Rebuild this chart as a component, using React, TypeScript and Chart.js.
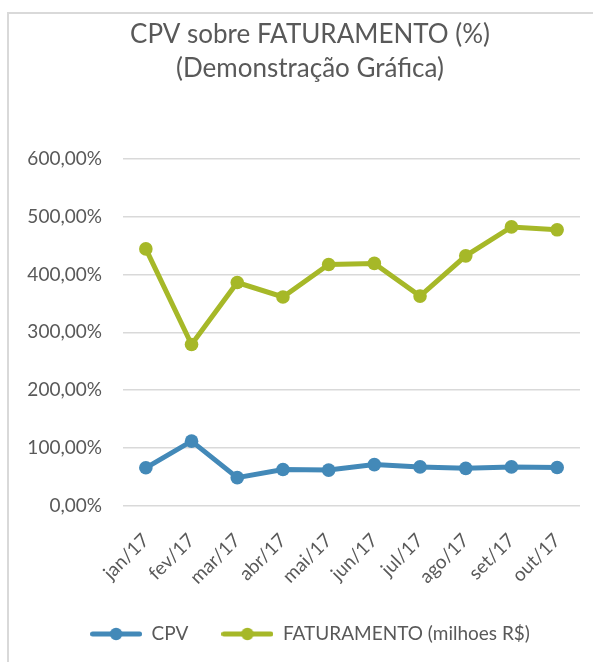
import React, { useEffect, useRef } from "react";
import { Chart, registerables } from "chart.js";

Chart.register(...registerables);

// ---- data ----
const categories = ["jan/17", "fev/17", "mar/17", "abr/17", "mai/17", "jun/17", "jul/17", "ago/17", "set/17", "out/17"];
const cpvValues = [66, 112, 49, 63, 62, 71.5, 67.5, 65, 67.5, 66.5];
const faturamentoValues = [444, 279, 386, 361, 417, 419, 362.5, 432, 482, 477];
const yTickValues = [0, 100, 200, 300, 400, 500, 600];
const titleLines = ["CPV sobre FATURAMENTO (%)", "(Demonstração Gráfica)"];
const seriesNames = ["CPV", "FATURAMENTO (milhoes R$)"];

// ---- styles ----
const seriesColors = ["#4389b8", "#a6b828"];
const textColor = "#595959";
const gridColor = "#d9d9d9";
const FONT = "Lato";

function makeLegendIcon(color: string): HTMLCanvasElement {
  const c = document.createElement("canvas");
  c.width = 52;
  c.height = 14;
  const ctx = c.getContext("2d")!;
  ctx.strokeStyle = color;
  ctx.lineWidth = 5;
  ctx.lineCap = "round";
  ctx.beginPath();
  ctx.moveTo(2.5, 7);
  ctx.lineTo(49.5, 7);
  ctx.stroke();
  ctx.fillStyle = color;
  ctx.beginPath();
  ctx.arc(26, 7, 6.2, 0, Math.PI * 2);
  ctx.fill();
  return c;
}

function formatPct(v: number): string {
  return v.toFixed(2).replace(".", ",") + "%";
}

export default function App() {
  const canvasRef = useRef<HTMLCanvasElement | null>(null);

  useEffect(() => {
    if (!canvasRef.current) return;
    const icons = seriesColors.map((c) => makeLegendIcon(c));
    const seriesData = [cpvValues, faturamentoValues];

    const chart = new Chart(canvasRef.current, {
      type: "line",
      data: {
        labels: categories,
        datasets: seriesNames.map((name, i) => ({
          label: name,
          data: seriesData[i],
          borderColor: seriesColors[i],
          backgroundColor: seriesColors[i],
          borderWidth: 5,
          pointRadius: 6.8,
          pointHoverRadius: 6.8,
          pointBackgroundColor: seriesColors[i],
          pointBorderColor: seriesColors[i],
          pointBorderWidth: 0,
          tension: 0,
          fill: false,
        })),
      },
      options: {
        animation: false,
        responsive: false,
        maintainAspectRatio: false,
        layout: { padding: { top: 0, left: 0, right: 0, bottom: 10.5 } },
        plugins: {
          tooltip: { enabled: false },
          title: {
            display: true,
            text: titleLines,
            color: textColor,
            font: { family: FONT, size: 26, weight: "normal", lineHeight: 1.3 },
            padding: { top: 4, bottom: 73 },
          },
          legend: {
            display: true,
            position: "bottom",
            labels: {
              usePointStyle: true,
              pointStyleWidth: 52,
              padding: 33,
              color: textColor,
              font: { family: FONT, size: 19 },
              generateLabels: (ch: any) =>
                ch.data.datasets.map((ds: any, i: number) => ({
                  text: ds.label,
                  pointStyle: icons[i],
                  fillStyle: seriesColors[i],
                  strokeStyle: seriesColors[i],
                  lineWidth: 0,
                  hidden: false,
                  datasetIndex: i,
                  fontColor: textColor,
                })),
            },
          },
        },
        scales: {
          x: {
            type: "category",
            offset: true,
            grid: { display: false, drawTicks: false },
            border: { display: false },
            ticks: {
              minRotation: 45,
              maxRotation: 45,
              padding: 23,
              color: textColor,
              font: { family: FONT, size: 19 },
            },
            afterFit: (scale: any) => {
              scale.height = 85.5;
            },
          },
          y: {
            type: "linear",
            min: 0,
            max: 600,
            afterBuildTicks: (scale: any) => {
              scale.ticks = yTickValues.map((v) => ({ value: v }));
            },
            grid: { color: gridColor, lineWidth: 1.5, drawTicks: false },
            border: { display: false },
            ticks: {
              padding: 21,
              color: textColor,
              font: { family: FONT, size: 19 },
              callback: (v: any) => formatPct(Number(v)),
            },
            afterFit: (scale: any) => {
              scale.width = 114;
            },
          },
          yR: {
            type: "linear",
            position: "right",
            display: true,
            grid: { display: false, drawTicks: false },
            border: { display: false },
            ticks: { display: false },
            afterFit: (scale: any) => {
              scale.width = 31;
            },
          },
        },
      },
    });
    return () => chart.destroy();
  }, []);

  return (
    <div style={{ position: "fixed", left: 0, top: 0, width: 593, height: 662, overflow: "hidden", background: "#fff" }}>
      <div style={{ position: "absolute", left: 7, top: 12, width: 602, height: 650, border: "2px solid #d9d9d9" }}>
        <canvas ref={canvasRef} width={602} height={650} style={{ display: "block", width: 602, height: 650 }} />
      </div>
    </div>
  );
}
